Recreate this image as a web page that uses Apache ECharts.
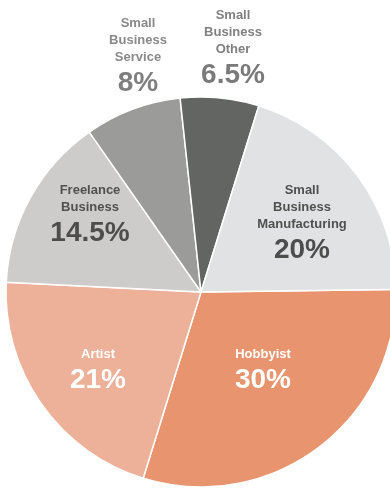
<!DOCTYPE html>
<html>
<head>
<meta charset="utf-8">
<style>
  html, body { margin: 0; padding: 0; background: #ffffff; }
  #chart { width: 390px; height: 489px; }
</style>
<script src="https://cdn.jsdelivr.net/npm/echarts@6/dist/echarts.min.js"></script>
</head>
<body>
<div id="chart"></div>
<script>
// Data
const categories = ['Hobbyist', 'Artist', 'Freelance Business', 'Small Business Service', 'Small Business Other', 'Small Business Manufacturing'];
const nameLines = [['Hobbyist'], ['Artist'], ['Freelance', 'Business'], ['Small', 'Business', 'Service'], ['Small', 'Business', 'Other'], ['Small', 'Business', 'Manufacturing']];
const values = [30, 21, 14.5, 8, 6.5, 20];

// Styles
const sliceColors = ['#E8956F', '#EDB098', '#CDCCCA', '#9B9C99', '#636562', '#E1E2E3'];
const nameColors = ['#ffffff', '#ffffff', '#505050', '#8a8a8a', '#808080', '#505050'];
const valueColors = ['#ffffff', '#ffffff', '#4d4d4d', '#7f7f7f', '#7a7a7a', '#4d4d4d'];
// label anchor: [centerX, topY]
const labelAnchors = [[263, 345.5], [98, 345.5], [90, 181.5], [138, 14.5], [233, 6.5], [302, 181.5]];

const FONT = '"Liberation Sans", Arial, Helvetica, sans-serif';

const data = categories.map((c, i) => ({
  name: c,
  value: values[i],
  itemStyle: { color: sliceColors[i] },
  label: {
    formatter: nameLines[i].map(s => '{n|' + s + '}').join('\n') + '\n{v|' + values[i] + '%}',
    rich: {
      n: { fontSize: 13, fontWeight: 'bold', color: nameColors[i], lineHeight: 17, fontFamily: FONT, align: 'center' },
      v: { fontSize: 28, fontWeight: 'bold', color: valueColors[i], lineHeight: 36, fontFamily: FONT, align: 'center' }
    }
  }
}));

const chart = echarts.init(document.getElementById('chart'), null, { renderer: 'canvas' });
chart.setOption({
  animation: false,
  backgroundColor: '#ffffff',
  series: [{
    type: 'pie',
    center: [201, 292],
    radius: 195,
    startAngle: 0.75,
    clockwise: true,
    silent: true,
    avoidLabelOverlap: false,
    itemStyle: { borderColor: '#ffffff', borderWidth: 1.5 },
    label: { show: true, position: 'inside', align: 'center' },
    labelLine: { show: false },
    labelLayout: function (params) {
      const a = labelAnchors[params.dataIndex];
      return { x: a[0], y: a[1], align: 'center', verticalAlign: 'top' };
    },
    emphasis: { disabled: true },
    data: data
  }]
});
</script>
</body>
</html>
